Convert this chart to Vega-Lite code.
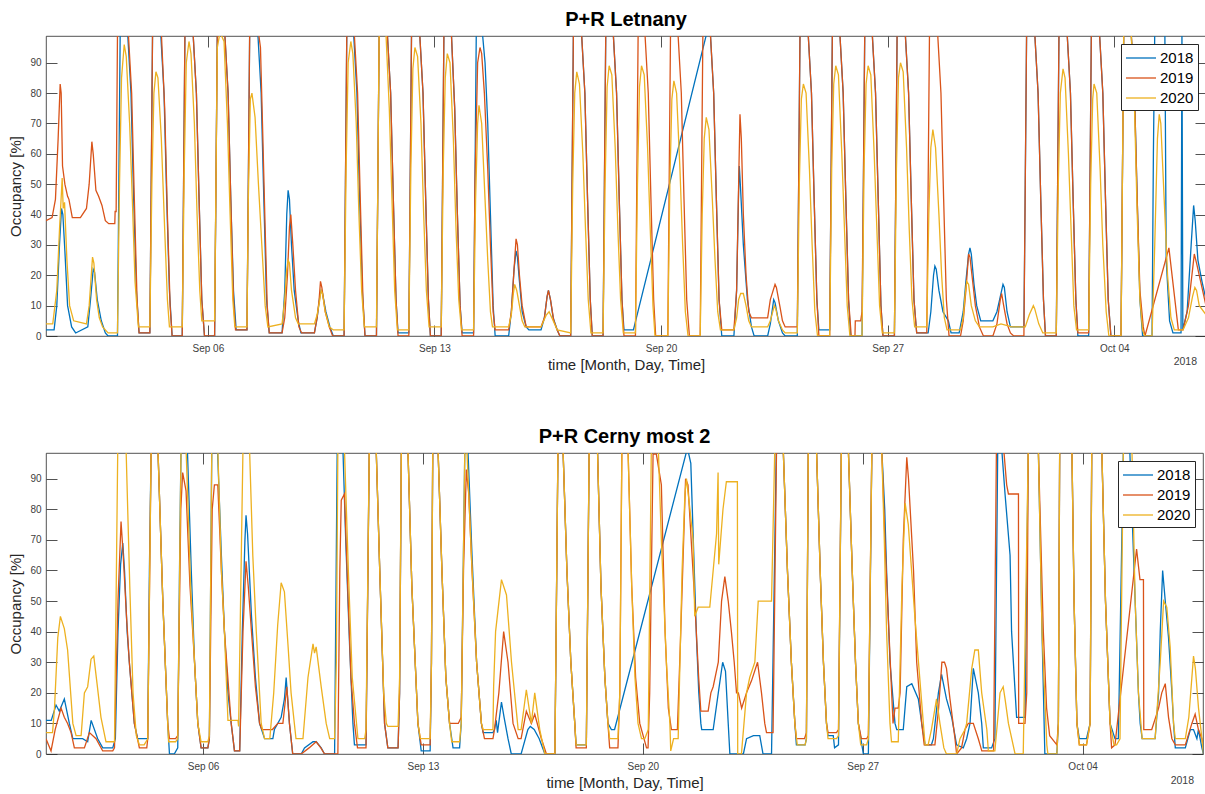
{
"$schema":"https://vega.github.io/schema/vega-lite/v6.json",
"background":"white",
"padding":{"left":8,"top":9,"right":1,"bottom":4},
"spacing":53,
"config":{
"font":"Liberation Sans",
"view":{"stroke":"#262626","strokeWidth":0.8},
"axis":{"grid":false,"domain":false,"tickColor":"#262626","tickSize":-11,"tickWidth":0.8,"labelFontSize":10,"labelColor":"#404040","labelFont":"Liberation Sans","titleFont":"Liberation Sans","titleFontSize":15,"titleFontWeight":"normal","titleColor":"#262626"},
"axisX":{"labelPadding":18,"titlePadding":4},
"axisY":{"labelPadding":16,"titlePadding":6},
"legend":{"orient":"top-right","offset":8,"fillColor":"white","strokeColor":"#262626","padding":4,"rowPadding":2,"labelFontSize":15,"labelColor":"#000","labelFont":"Liberation Sans","labelOffset":15,"symbolType":"M-1,0H2.333","symbolSize":324,"symbolStrokeWidth":1.8},
"title":{"font":"Liberation Sans","fontSize":20,"fontWeight":"bold","color":"#000","anchor":"middle","baseline":"alphabetic","offset":6},
"line":{"strokeWidth":1.3,"clip":true}
},
"resolve":{"scale":{"color":"independent"},"legend":{"color":"independent"}},
"datasets":{
"L18":[{"t":"2018-09-01T00:00","v":2},{"t":"2018-09-01T06:00","v":2},{"t":"2018-09-01T08:00","v":10},{"t":"2018-09-01T10:00","v":30},{"t":"2018-09-01T11:30","v":42},{"t":"2018-09-01T12:30","v":40},{"t":"2018-09-01T14:00","v":28},{"t":"2018-09-01T16:00","v":10},{"t":"2018-09-01T19:00","v":3},{"t":"2018-09-01T22:00","v":1},
{"t":"2018-09-02T07:00","v":3},{"t":"2018-09-02T09:00","v":12},{"t":"2018-09-02T11:00","v":22},{"t":"2018-09-02T12:00","v":21},{"t":"2018-09-02T14:00","v":12},{"t":"2018-09-02T17:00","v":5},{"t":"2018-09-02T20:00","v":1},{"t":"2018-09-02T22:00","v":0},
{"t":"2018-09-03T05:00","v":0},{"t":"2018-09-03T06:00","v":50},{"t":"2018-09-03T07:00","v":100},{"t":"2018-09-03T12:30","v":100},{"t":"2018-09-03T15:00","v":80},{"t":"2018-09-03T17:00","v":45},{"t":"2018-09-03T19:00","v":15},{"t":"2018-09-03T21:00","v":1},
{"t":"2018-09-04T05:00","v":1},{"t":"2018-09-04T06:00","v":50},{"t":"2018-09-04T07:00","v":100},{"t":"2018-09-04T13:00","v":100},{"t":"2018-09-04T15:30","v":80},{"t":"2018-09-04T17:30","v":45},{"t":"2018-09-04T19:30","v":15},{"t":"2018-09-04T21:30","v":0},
{"t":"2018-09-05T05:00","v":0},{"t":"2018-09-05T06:00","v":50},{"t":"2018-09-05T07:00","v":100},{"t":"2018-09-05T13:00","v":100},{"t":"2018-09-05T15:30","v":80},{"t":"2018-09-05T17:30","v":45},{"t":"2018-09-05T19:30","v":12},{"t":"2018-09-05T21:30","v":0},
{"t":"2018-09-06T05:00","v":0},{"t":"2018-09-06T06:00","v":50},{"t":"2018-09-06T07:00","v":100},{"t":"2018-09-06T12:30","v":100},{"t":"2018-09-06T15:00","v":80},{"t":"2018-09-06T17:00","v":45},{"t":"2018-09-06T19:00","v":15},{"t":"2018-09-06T21:00","v":2},
{"t":"2018-09-07T05:00","v":2},{"t":"2018-09-07T06:00","v":50},{"t":"2018-09-07T07:00","v":100},{"t":"2018-09-07T13:00","v":100},{"t":"2018-09-07T15:30","v":80},{"t":"2018-09-07T17:30","v":45},{"t":"2018-09-07T19:30","v":12},{"t":"2018-09-07T21:30","v":1},
{"t":"2018-09-08T07:00","v":1},{"t":"2018-09-08T09:00","v":15},{"t":"2018-09-08T10:30","v":40},{"t":"2018-09-08T11:30","v":48},{"t":"2018-09-08T12:30","v":45},{"t":"2018-09-08T14:00","v":30},{"t":"2018-09-08T16:00","v":15},{"t":"2018-09-08T19:00","v":5},{"t":"2018-09-08T21:00","v":1},
{"t":"2018-09-09T07:00","v":1},{"t":"2018-09-09T09:00","v":6},{"t":"2018-09-09T11:00","v":13},{"t":"2018-09-09T12:00","v":15},{"t":"2018-09-09T13:00","v":14},{"t":"2018-09-09T15:30","v":8},{"t":"2018-09-09T18:30","v":3},{"t":"2018-09-09T21:00","v":0},
{"t":"2018-09-10T05:00","v":0},{"t":"2018-09-10T06:00","v":50},{"t":"2018-09-10T07:00","v":100},{"t":"2018-09-10T12:00","v":100},{"t":"2018-09-10T14:30","v":80},{"t":"2018-09-10T16:30","v":45},{"t":"2018-09-10T18:30","v":15},{"t":"2018-09-10T20:30","v":0},
{"t":"2018-09-11T05:00","v":0},{"t":"2018-09-11T06:00","v":50},{"t":"2018-09-11T07:00","v":100},{"t":"2018-09-11T13:00","v":100},{"t":"2018-09-11T15:30","v":80},{"t":"2018-09-11T17:30","v":45},{"t":"2018-09-11T19:30","v":12},{"t":"2018-09-11T21:00","v":1},
{"t":"2018-09-12T05:00","v":1},{"t":"2018-09-12T06:00","v":50},{"t":"2018-09-12T07:00","v":100},{"t":"2018-09-12T13:00","v":100},{"t":"2018-09-12T15:30","v":80},{"t":"2018-09-12T17:30","v":45},{"t":"2018-09-12T19:30","v":12},{"t":"2018-09-12T21:00","v":0},
{"t":"2018-09-13T05:00","v":0},{"t":"2018-09-13T06:00","v":50},{"t":"2018-09-13T07:00","v":100},{"t":"2018-09-13T12:30","v":100},{"t":"2018-09-13T15:00","v":75},{"t":"2018-09-13T17:00","v":40},{"t":"2018-09-13T19:00","v":10},{"t":"2018-09-13T20:30","v":1},
{"t":"2018-09-14T05:00","v":1},{"t":"2018-09-14T06:00","v":50},{"t":"2018-09-14T07:00","v":100},{"t":"2018-09-14T11:30","v":100},{"t":"2018-09-14T13:30","v":90},{"t":"2018-09-14T15:30","v":70},{"t":"2018-09-14T17:30","v":40},{"t":"2018-09-14T19:30","v":10},{"t":"2018-09-14T21:00","v":0},
{"t":"2018-09-15T07:00","v":0},{"t":"2018-09-15T09:00","v":8},{"t":"2018-09-15T11:00","v":22},{"t":"2018-09-15T12:30","v":28},{"t":"2018-09-15T13:30","v":26},{"t":"2018-09-15T15:00","v":18},{"t":"2018-09-15T17:00","v":8},{"t":"2018-09-15T20:00","v":3},{"t":"2018-09-15T22:00","v":2},
{"t":"2018-09-16T07:00","v":2},{"t":"2018-09-16T09:30","v":6},{"t":"2018-09-16T11:30","v":13},{"t":"2018-09-16T12:30","v":15},{"t":"2018-09-16T14:00","v":12},{"t":"2018-09-16T16:00","v":6},{"t":"2018-09-16T19:00","v":2},{"t":"2018-09-16T21:00","v":0},
{"t":"2018-09-17T05:00","v":0},{"t":"2018-09-17T06:00","v":50},{"t":"2018-09-17T07:00","v":100},{"t":"2018-09-17T13:00","v":100},{"t":"2018-09-17T15:30","v":80},{"t":"2018-09-17T17:30","v":45},{"t":"2018-09-17T19:30","v":12},{"t":"2018-09-17T21:00","v":0},
{"t":"2018-09-18T05:00","v":0},{"t":"2018-09-18T06:00","v":50},{"t":"2018-09-18T07:00","v":100},{"t":"2018-09-18T12:30","v":100},{"t":"2018-09-18T15:00","v":80},{"t":"2018-09-18T17:00","v":45},{"t":"2018-09-18T19:00","v":12},{"t":"2018-09-18T20:30","v":2},
{"t":"2018-09-19T03:30","v":2},
{"t":"2018-09-21T10:00","v":100},{"t":"2018-09-21T12:30","v":100},{"t":"2018-09-21T15:00","v":80},{"t":"2018-09-21T17:00","v":45},{"t":"2018-09-21T19:00","v":12},{"t":"2018-09-21T21:00","v":0},
{"t":"2018-09-22T06:00","v":0},{"t":"2018-09-22T08:00","v":15},{"t":"2018-09-22T09:30","v":48},{"t":"2018-09-22T10:00","v":56},{"t":"2018-09-22T11:00","v":48},{"t":"2018-09-22T13:00","v":30},{"t":"2018-09-22T16:00","v":12},{"t":"2018-09-22T19:00","v":3},{"t":"2018-09-22T21:00","v":0},
{"t":"2018-09-23T07:00","v":0},{"t":"2018-09-23T09:00","v":4},{"t":"2018-09-23T11:30","v":12},{"t":"2018-09-23T12:30","v":11},{"t":"2018-09-23T15:00","v":5},{"t":"2018-09-23T18:00","v":1},{"t":"2018-09-23T20:00","v":0},
{"t":"2018-09-24T05:00","v":0},{"t":"2018-09-24T06:00","v":50},{"t":"2018-09-24T07:00","v":100},{"t":"2018-09-24T13:00","v":100},{"t":"2018-09-24T15:30","v":80},{"t":"2018-09-24T17:30","v":45},{"t":"2018-09-24T19:30","v":12},{"t":"2018-09-24T21:00","v":2},
{"t":"2018-09-25T05:00","v":2},{"t":"2018-09-25T06:00","v":50},{"t":"2018-09-25T07:00","v":100},{"t":"2018-09-25T12:30","v":100},{"t":"2018-09-25T15:00","v":80},{"t":"2018-09-25T17:00","v":45},{"t":"2018-09-25T19:00","v":12},{"t":"2018-09-25T20:30","v":0},
{"t":"2018-09-26T05:00","v":0},{"t":"2018-09-26T06:00","v":50},{"t":"2018-09-26T07:00","v":100},{"t":"2018-09-26T12:30","v":100},{"t":"2018-09-26T15:00","v":80},{"t":"2018-09-26T17:00","v":45},{"t":"2018-09-26T19:00","v":10},{"t":"2018-09-26T20:30","v":0},
{"t":"2018-09-27T05:00","v":0},{"t":"2018-09-27T06:00","v":50},{"t":"2018-09-27T07:00","v":100},{"t":"2018-09-27T13:00","v":100},{"t":"2018-09-27T15:30","v":80},{"t":"2018-09-27T17:30","v":45},{"t":"2018-09-27T19:30","v":12},{"t":"2018-09-27T21:30","v":1},
{"t":"2018-09-28T06:00","v":1},{"t":"2018-09-28T08:00","v":8},{"t":"2018-09-28T10:00","v":20},{"t":"2018-09-28T11:00","v":23},{"t":"2018-09-28T12:00","v":22},{"t":"2018-09-28T14:00","v":15},{"t":"2018-09-28T17:00","v":8},{"t":"2018-09-28T21:00","v":5},{"t":"2018-09-28T23:00","v":1},
{"t":"2018-09-29T05:00","v":1},{"t":"2018-09-29T08:00","v":8},{"t":"2018-09-29T10:00","v":18},{"t":"2018-09-29T12:00","v":27},{"t":"2018-09-29T13:00","v":29},{"t":"2018-09-29T14:00","v":27},{"t":"2018-09-29T16:00","v":17},{"t":"2018-09-29T18:00","v":10},{"t":"2018-09-29T21:00","v":5},
{"t":"2018-09-30T06:00","v":5},{"t":"2018-09-30T09:00","v":8},{"t":"2018-09-30T11:00","v":12},{"t":"2018-09-30T13:30","v":17},{"t":"2018-09-30T14:30","v":16},{"t":"2018-09-30T16:30","v":8},{"t":"2018-09-30T19:00","v":3},
{"t":"2018-10-01T05:00","v":3},{"t":"2018-10-01T06:00","v":50},{"t":"2018-10-01T07:00","v":100},{"t":"2018-10-01T13:00","v":100},{"t":"2018-10-01T15:30","v":80},{"t":"2018-10-01T17:30","v":45},{"t":"2018-10-01T19:30","v":12},{"t":"2018-10-01T21:00","v":0},
{"t":"2018-10-02T05:00","v":0},{"t":"2018-10-02T06:00","v":50},{"t":"2018-10-02T07:00","v":100},{"t":"2018-10-02T13:00","v":100},{"t":"2018-10-02T15:30","v":80},{"t":"2018-10-02T17:30","v":45},{"t":"2018-10-02T19:30","v":12},{"t":"2018-10-02T21:00","v":0},
{"t":"2018-10-03T05:00","v":0},{"t":"2018-10-03T06:00","v":50},{"t":"2018-10-03T07:00","v":100},{"t":"2018-10-03T13:00","v":100},{"t":"2018-10-03T15:30","v":80},{"t":"2018-10-03T17:30","v":45},{"t":"2018-10-03T19:30","v":12},{"t":"2018-10-03T21:30","v":0},
{"t":"2018-10-04T05:00","v":0},{"t":"2018-10-04T06:00","v":50},{"t":"2018-10-04T07:00","v":100},{"t":"2018-10-04T12:30","v":100},{"t":"2018-10-04T15:00","v":80},{"t":"2018-10-04T17:00","v":45},{"t":"2018-10-04T19:00","v":12},{"t":"2018-10-04T21:00","v":0},
{"t":"2018-10-05T04:00","v":0},{"t":"2018-10-05T05:00","v":60},{"t":"2018-10-05T06:00","v":100},{"t":"2018-10-05T13:30","v":100},{"t":"2018-10-05T14:30","v":25},{"t":"2018-10-05T17:00","v":5},{"t":"2018-10-05T19:30","v":1},
{"t":"2018-10-06T01:30","v":1},{"t":"2018-10-06T02:10","v":100},{"t":"2018-10-06T02:50","v":2},{"t":"2018-10-06T06:00","v":8},{"t":"2018-10-06T09:00","v":30},{"t":"2018-10-06T10:50","v":43},{"t":"2018-10-06T12:00","v":38},{"t":"2018-10-06T14:00","v":25},{"t":"2018-10-06T17:00","v":18},{"t":"2018-10-06T20:00","v":12}],
"L19":[{"t":"2018-09-01T00:00","v":38},{"t":"2018-09-01T04:30","v":39},{"t":"2018-09-01T07:00","v":45},{"t":"2018-09-01T09:00","v":65},{"t":"2018-09-01T10:30","v":83},{"t":"2018-09-01T11:15","v":80},{"t":"2018-09-01T12:15","v":56},{"t":"2018-09-01T14:00","v":50},{"t":"2018-09-01T16:00","v":46},{"t":"2018-09-01T17:00","v":45},{"t":"2018-09-01T19:30","v":39},
{"t":"2018-09-02T01:30","v":39},{"t":"2018-09-02T06:00","v":42},{"t":"2018-09-02T08:00","v":50},{"t":"2018-09-02T10:00","v":64},{"t":"2018-09-02T11:00","v":60},{"t":"2018-09-02T13:00","v":48},{"t":"2018-09-02T15:00","v":46},{"t":"2018-09-02T17:30","v":43},{"t":"2018-09-02T20:00","v":38},{"t":"2018-09-02T22:30","v":37},
{"t":"2018-09-03T03:00","v":37},{"t":"2018-09-03T03:15","v":41},{"t":"2018-09-03T04:00","v":41},{"t":"2018-09-03T05:00","v":100},{"t":"2018-09-03T13:00","v":100},{"t":"2018-09-03T15:30","v":80},{"t":"2018-09-03T17:30","v":45},{"t":"2018-09-03T19:30","v":12},{"t":"2018-09-03T21:00","v":1},
{"t":"2018-09-04T05:00","v":1},{"t":"2018-09-04T06:00","v":50},{"t":"2018-09-04T07:00","v":100},{"t":"2018-09-04T13:30","v":100},{"t":"2018-09-04T16:00","v":75},{"t":"2018-09-04T18:00","v":40},{"t":"2018-09-04T20:00","v":10},{"t":"2018-09-04T21:30","v":0},
{"t":"2018-09-05T05:00","v":0},{"t":"2018-09-05T06:00","v":50},{"t":"2018-09-05T07:00","v":100},{"t":"2018-09-05T13:00","v":100},{"t":"2018-09-05T15:30","v":80},{"t":"2018-09-05T17:30","v":45},{"t":"2018-09-05T19:30","v":12},{"t":"2018-09-05T21:30","v":0},
{"t":"2018-09-06T05:00","v":0},{"t":"2018-09-06T06:00","v":50},{"t":"2018-09-06T07:00","v":100},{"t":"2018-09-06T12:30","v":100},{"t":"2018-09-06T15:00","v":80},{"t":"2018-09-06T17:00","v":45},{"t":"2018-09-06T19:00","v":12},{"t":"2018-09-06T20:30","v":2},
{"t":"2018-09-07T05:00","v":2},{"t":"2018-09-07T06:00","v":50},{"t":"2018-09-07T07:00","v":100},{"t":"2018-09-07T13:30","v":100},{"t":"2018-09-07T15:00","v":95},{"t":"2018-09-07T16:30","v":70},{"t":"2018-09-07T18:30","v":35},{"t":"2018-09-07T20:00","v":10},{"t":"2018-09-07T21:30","v":1},
{"t":"2018-09-08T07:00","v":1},{"t":"2018-09-08T09:00","v":6},{"t":"2018-09-08T11:00","v":20},{"t":"2018-09-08T12:30","v":36},{"t":"2018-09-08T13:30","v":40},{"t":"2018-09-08T15:00","v":30},{"t":"2018-09-08T17:00","v":15},{"t":"2018-09-08T19:30","v":3},{"t":"2018-09-08T21:30","v":1},
{"t":"2018-09-09T07:00","v":1},{"t":"2018-09-09T09:00","v":6},{"t":"2018-09-09T10:30","v":12},{"t":"2018-09-09T11:30","v":18},{"t":"2018-09-09T12:30","v":16},{"t":"2018-09-09T15:00","v":8},{"t":"2018-09-09T18:00","v":3},{"t":"2018-09-09T20:30","v":0},
{"t":"2018-09-10T05:00","v":0},{"t":"2018-09-10T06:00","v":50},{"t":"2018-09-10T07:00","v":100},{"t":"2018-09-10T12:30","v":100},{"t":"2018-09-10T15:00","v":80},{"t":"2018-09-10T17:00","v":45},{"t":"2018-09-10T19:00","v":12},{"t":"2018-09-10T20:30","v":0},
{"t":"2018-09-11T05:00","v":0},{"t":"2018-09-11T06:00","v":50},{"t":"2018-09-11T07:00","v":100},{"t":"2018-09-11T13:00","v":100},{"t":"2018-09-11T15:30","v":80},{"t":"2018-09-11T17:30","v":45},{"t":"2018-09-11T19:30","v":12},{"t":"2018-09-11T21:00","v":0},
{"t":"2018-09-12T05:00","v":0},{"t":"2018-09-12T06:00","v":50},{"t":"2018-09-12T07:00","v":100},{"t":"2018-09-12T13:00","v":100},{"t":"2018-09-12T15:30","v":80},{"t":"2018-09-12T17:30","v":45},{"t":"2018-09-12T19:30","v":12},{"t":"2018-09-12T21:00","v":0},
{"t":"2018-09-13T05:00","v":0},{"t":"2018-09-13T06:00","v":50},{"t":"2018-09-13T07:00","v":100},{"t":"2018-09-13T12:30","v":100},{"t":"2018-09-13T15:00","v":75},{"t":"2018-09-13T17:00","v":40},{"t":"2018-09-13T19:00","v":10},{"t":"2018-09-13T20:30","v":0},
{"t":"2018-09-14T05:00","v":0},{"t":"2018-09-14T06:00","v":50},{"t":"2018-09-14T08:00","v":90},{"t":"2018-09-14T09:45","v":95},{"t":"2018-09-14T11:00","v":93},{"t":"2018-09-14T13:00","v":80},{"t":"2018-09-14T15:30","v":55},{"t":"2018-09-14T17:30","v":30},{"t":"2018-09-14T19:30","v":8},{"t":"2018-09-14T21:00","v":2},
{"t":"2018-09-15T07:00","v":2},{"t":"2018-09-15T09:00","v":8},{"t":"2018-09-15T11:00","v":22},{"t":"2018-09-15T12:30","v":32},{"t":"2018-09-15T13:30","v":30},{"t":"2018-09-15T15:00","v":20},{"t":"2018-09-15T17:00","v":10},{"t":"2018-09-15T20:00","v":3},
{"t":"2018-09-16T07:00","v":3},{"t":"2018-09-16T09:30","v":6},{"t":"2018-09-16T11:30","v":13},{"t":"2018-09-16T12:30","v":15},{"t":"2018-09-16T14:00","v":12},{"t":"2018-09-16T16:30","v":5},{"t":"2018-09-16T19:00","v":2},{"t":"2018-09-16T21:00","v":0},
{"t":"2018-09-17T05:00","v":0},{"t":"2018-09-17T06:00","v":50},{"t":"2018-09-17T07:00","v":100},{"t":"2018-09-17T13:00","v":100},{"t":"2018-09-17T15:30","v":80},{"t":"2018-09-17T17:30","v":45},{"t":"2018-09-17T19:30","v":12},{"t":"2018-09-17T21:00","v":0},
{"t":"2018-09-18T05:00","v":0},{"t":"2018-09-18T06:00","v":50},{"t":"2018-09-18T07:00","v":100},{"t":"2018-09-18T12:30","v":100},{"t":"2018-09-18T15:00","v":80},{"t":"2018-09-18T17:00","v":45},{"t":"2018-09-18T19:00","v":12},{"t":"2018-09-18T20:30","v":0},
{"t":"2018-09-19T05:00","v":0},{"t":"2018-09-19T06:00","v":50},{"t":"2018-09-19T07:00","v":100},{"t":"2018-09-19T12:00","v":100},{"t":"2018-09-19T14:30","v":80},{"t":"2018-09-19T16:30","v":45},{"t":"2018-09-19T18:30","v":12},{"t":"2018-09-19T20:00","v":0},
{"t":"2018-09-20T05:00","v":0},{"t":"2018-09-20T06:00","v":50},{"t":"2018-09-20T07:00","v":100},{"t":"2018-09-20T12:30","v":100},{"t":"2018-09-20T15:00","v":80},{"t":"2018-09-20T17:00","v":45},{"t":"2018-09-20T19:00","v":12},{"t":"2018-09-20T21:00","v":0},
{"t":"2018-09-21T05:00","v":0},{"t":"2018-09-21T06:00","v":50},{"t":"2018-09-21T07:00","v":100},{"t":"2018-09-21T12:30","v":100},{"t":"2018-09-21T15:00","v":80},{"t":"2018-09-21T17:00","v":45},{"t":"2018-09-21T19:00","v":12},{"t":"2018-09-21T21:00","v":2},
{"t":"2018-09-22T06:00","v":2},{"t":"2018-09-22T08:00","v":15},{"t":"2018-09-22T09:30","v":50},{"t":"2018-09-22T10:30","v":73},{"t":"2018-09-22T11:30","v":65},{"t":"2018-09-22T13:00","v":40},{"t":"2018-09-22T15:00","v":20},{"t":"2018-09-22T17:00","v":8},{"t":"2018-09-22T19:00","v":6},
{"t":"2018-09-23T07:00","v":6},{"t":"2018-09-23T09:00","v":12},{"t":"2018-09-23T12:30","v":17},{"t":"2018-09-23T13:30","v":16},{"t":"2018-09-23T16:00","v":10},{"t":"2018-09-23T18:00","v":5},{"t":"2018-09-23T20:00","v":3},
{"t":"2018-09-24T05:00","v":3},{"t":"2018-09-24T06:00","v":50},{"t":"2018-09-24T07:00","v":100},{"t":"2018-09-24T13:00","v":100},{"t":"2018-09-24T15:30","v":80},{"t":"2018-09-24T17:30","v":45},{"t":"2018-09-24T19:30","v":12},{"t":"2018-09-24T21:00","v":0},
{"t":"2018-09-25T05:00","v":0},{"t":"2018-09-25T06:00","v":50},{"t":"2018-09-25T07:00","v":100},{"t":"2018-09-25T12:30","v":100},{"t":"2018-09-25T15:00","v":80},{"t":"2018-09-25T17:00","v":45},{"t":"2018-09-25T19:00","v":12},{"t":"2018-09-25T21:00","v":0},{"t":"2018-09-25T23:45","v":0},
{"t":"2018-09-26T00:00","v":5},{"t":"2018-09-26T04:00","v":5},{"t":"2018-09-26T05:00","v":8},{"t":"2018-09-26T06:00","v":50},{"t":"2018-09-26T07:00","v":100},{"t":"2018-09-26T12:30","v":100},{"t":"2018-09-26T15:00","v":80},{"t":"2018-09-26T17:00","v":45},{"t":"2018-09-26T19:00","v":10},{"t":"2018-09-26T20:30","v":0},
{"t":"2018-09-27T05:00","v":0},{"t":"2018-09-27T06:00","v":50},{"t":"2018-09-27T07:00","v":100},{"t":"2018-09-27T13:00","v":100},{"t":"2018-09-27T15:30","v":80},{"t":"2018-09-27T17:30","v":45},{"t":"2018-09-27T19:30","v":12},{"t":"2018-09-27T21:30","v":1},
{"t":"2018-09-28T05:00","v":1},{"t":"2018-09-28T06:00","v":50},{"t":"2018-09-28T07:00","v":100},{"t":"2018-09-28T13:00","v":100},{"t":"2018-09-28T15:30","v":80},{"t":"2018-09-28T17:30","v":45},{"t":"2018-09-28T19:30","v":12},{"t":"2018-09-28T21:30","v":0},
{"t":"2018-09-29T06:00","v":0},{"t":"2018-09-29T08:00","v":5},{"t":"2018-09-29T10:00","v":15},{"t":"2018-09-29T12:00","v":27},{"t":"2018-09-29T13:00","v":26},{"t":"2018-09-29T14:30","v":20},{"t":"2018-09-29T17:00","v":10},{"t":"2018-09-29T20:00","v":3},{"t":"2018-09-29T23:00","v":0},
{"t":"2018-09-30T06:00","v":0},{"t":"2018-09-30T09:00","v":4},{"t":"2018-09-30T11:30","v":12},{"t":"2018-09-30T12:30","v":14},{"t":"2018-09-30T14:00","v":10},{"t":"2018-09-30T16:30","v":4},{"t":"2018-09-30T19:00","v":1},{"t":"2018-09-30T21:30","v":0},
{"t":"2018-10-01T05:00","v":0},{"t":"2018-10-01T06:00","v":50},{"t":"2018-10-01T07:00","v":100},{"t":"2018-10-01T13:00","v":100},{"t":"2018-10-01T15:30","v":80},{"t":"2018-10-01T17:30","v":45},{"t":"2018-10-01T19:30","v":12},{"t":"2018-10-01T21:00","v":0},
{"t":"2018-10-02T05:00","v":0},{"t":"2018-10-02T06:00","v":50},{"t":"2018-10-02T07:00","v":100},{"t":"2018-10-02T13:00","v":100},{"t":"2018-10-02T15:30","v":80},{"t":"2018-10-02T17:30","v":45},{"t":"2018-10-02T19:30","v":12},{"t":"2018-10-02T21:00","v":1},
{"t":"2018-10-03T05:00","v":1},{"t":"2018-10-03T06:00","v":50},{"t":"2018-10-03T07:00","v":100},{"t":"2018-10-03T13:00","v":100},{"t":"2018-10-03T15:30","v":80},{"t":"2018-10-03T17:30","v":45},{"t":"2018-10-03T19:30","v":12},{"t":"2018-10-03T21:30","v":0},
{"t":"2018-10-04T05:00","v":0},{"t":"2018-10-04T06:00","v":50},{"t":"2018-10-04T07:00","v":100},{"t":"2018-10-04T12:30","v":100},{"t":"2018-10-04T15:00","v":80},{"t":"2018-10-04T17:00","v":45},{"t":"2018-10-04T19:00","v":15},{"t":"2018-10-04T21:30","v":3},{"t":"2018-10-04T22:45","v":0},
{"t":"2018-10-05T16:30","v":29},{"t":"2018-10-05T23:30","v":2},
{"t":"2018-10-06T03:00","v":2},{"t":"2018-10-06T07:00","v":10},{"t":"2018-10-06T11:20","v":27},{"t":"2018-10-06T13:00","v":24},{"t":"2018-10-06T16:00","v":18},{"t":"2018-10-06T20:00","v":10}],
"L20":[{"t":"2018-09-01T00:00","v":4},{"t":"2018-09-01T05:00","v":4},{"t":"2018-09-01T08:00","v":15},{"t":"2018-09-01T10:00","v":35},{"t":"2018-09-01T12:00","v":52},{"t":"2018-09-01T12:45","v":42},{"t":"2018-09-01T13:45","v":44},{"t":"2018-09-01T15:30","v":25},{"t":"2018-09-01T17:30","v":10},{"t":"2018-09-01T20:30","v":5},
{"t":"2018-09-02T06:00","v":4},{"t":"2018-09-02T08:00","v":10},{"t":"2018-09-02T10:30","v":26},{"t":"2018-09-02T11:30","v":24},{"t":"2018-09-02T13:30","v":12},{"t":"2018-09-02T15:30","v":6},{"t":"2018-09-02T18:00","v":3},{"t":"2018-09-02T22:00","v":1},
{"t":"2018-09-03T05:00","v":1},{"t":"2018-09-03T06:30","v":50},{"t":"2018-09-03T08:00","v":85},{"t":"2018-09-03T10:00","v":96},{"t":"2018-09-03T11:30","v":92},{"t":"2018-09-03T14:00","v":70},{"t":"2018-09-03T16:00","v":45},{"t":"2018-09-03T18:00","v":18},{"t":"2018-09-03T20:30","v":3},
{"t":"2018-09-04T05:00","v":3},{"t":"2018-09-04T06:30","v":50},{"t":"2018-09-04T08:00","v":80},{"t":"2018-09-04T09:30","v":87},{"t":"2018-09-04T11:00","v":85},{"t":"2018-09-04T13:30","v":65},{"t":"2018-09-04T16:00","v":35},{"t":"2018-09-04T18:00","v":12},{"t":"2018-09-04T19:30","v":3},
{"t":"2018-09-05T05:00","v":3},{"t":"2018-09-05T06:30","v":55},{"t":"2018-09-05T08:00","v":90},{"t":"2018-09-05T10:00","v":97},{"t":"2018-09-05T11:30","v":93},{"t":"2018-09-05T14:00","v":70},{"t":"2018-09-05T16:00","v":40},{"t":"2018-09-05T18:00","v":15},{"t":"2018-09-05T19:30","v":5},
{"t":"2018-09-06T05:00","v":5},{"t":"2018-09-06T06:00","v":50},{"t":"2018-09-06T07:00","v":95},{"t":"2018-09-06T09:00","v":100},{"t":"2018-09-06T12:00","v":97},{"t":"2018-09-06T14:30","v":70},{"t":"2018-09-06T16:30","v":40},{"t":"2018-09-06T18:30","v":12},{"t":"2018-09-06T20:00","v":3},
{"t":"2018-09-07T05:00","v":3},{"t":"2018-09-07T06:00","v":45},{"t":"2018-09-07T07:30","v":78},{"t":"2018-09-07T08:40","v":80},{"t":"2018-09-07T11:00","v":72},{"t":"2018-09-07T13:30","v":50},{"t":"2018-09-07T16:00","v":30},{"t":"2018-09-07T18:30","v":10},{"t":"2018-09-07T20:30","v":3},
{"t":"2018-09-08T07:00","v":4},{"t":"2018-09-08T09:00","v":12},{"t":"2018-09-08T10:30","v":22},{"t":"2018-09-08T11:30","v":25},{"t":"2018-09-08T12:30","v":24},{"t":"2018-09-08T14:00","v":15},{"t":"2018-09-08T17:00","v":6},{"t":"2018-09-08T19:00","v":4},
{"t":"2018-09-09T07:00","v":4},{"t":"2018-09-09T09:00","v":7},{"t":"2018-09-09T11:00","v":12},{"t":"2018-09-09T12:00","v":15},{"t":"2018-09-09T13:00","v":14},{"t":"2018-09-09T15:00","v":8},{"t":"2018-09-09T18:00","v":3},{"t":"2018-09-09T21:00","v":2},
{"t":"2018-09-10T05:00","v":2},{"t":"2018-09-10T06:30","v":55},{"t":"2018-09-10T08:00","v":90},{"t":"2018-09-10T10:00","v":97},{"t":"2018-09-10T11:30","v":93},{"t":"2018-09-10T14:00","v":70},{"t":"2018-09-10T16:00","v":40},{"t":"2018-09-10T18:00","v":15},{"t":"2018-09-10T20:00","v":3},
{"t":"2018-09-11T05:00","v":3},{"t":"2018-09-11T06:00","v":50},{"t":"2018-09-11T07:00","v":100},{"t":"2018-09-11T12:00","v":100},{"t":"2018-09-11T14:30","v":75},{"t":"2018-09-11T16:30","v":45},{"t":"2018-09-11T18:30","v":15},{"t":"2018-09-11T20:30","v":2},
{"t":"2018-09-12T05:00","v":2},{"t":"2018-09-12T06:30","v":55},{"t":"2018-09-12T08:00","v":88},{"t":"2018-09-12T09:30","v":95},{"t":"2018-09-12T11:30","v":92},{"t":"2018-09-12T14:00","v":70},{"t":"2018-09-12T16:00","v":40},{"t":"2018-09-12T18:00","v":15},{"t":"2018-09-12T20:00","v":3},
{"t":"2018-09-13T05:00","v":3},{"t":"2018-09-13T06:30","v":55},{"t":"2018-09-13T08:00","v":85},{"t":"2018-09-13T09:30","v":93},{"t":"2018-09-13T11:30","v":90},{"t":"2018-09-13T14:00","v":65},{"t":"2018-09-13T16:00","v":35},{"t":"2018-09-13T18:00","v":12},{"t":"2018-09-13T20:00","v":2},
{"t":"2018-09-14T05:00","v":2},{"t":"2018-09-14T06:30","v":45},{"t":"2018-09-14T08:00","v":70},{"t":"2018-09-14T09:00","v":76},{"t":"2018-09-14T11:00","v":70},{"t":"2018-09-14T13:30","v":45},{"t":"2018-09-14T15:30","v":25},{"t":"2018-09-14T17:30","v":8},{"t":"2018-09-14T19:00","v":3},
{"t":"2018-09-15T07:00","v":3},{"t":"2018-09-15T09:00","v":7},{"t":"2018-09-15T10:30","v":14},{"t":"2018-09-15T11:30","v":17},{"t":"2018-09-15T13:00","v":15},{"t":"2018-09-15T15:00","v":10},{"t":"2018-09-15T17:00","v":5},{"t":"2018-09-15T19:00","v":3},
{"t":"2018-09-16T07:00","v":3},{"t":"2018-09-16T09:00","v":5},{"t":"2018-09-16T11:00","v":7},{"t":"2018-09-16T13:00","v":8},{"t":"2018-09-16T15:00","v":6},{"t":"2018-09-16T17:00","v":4},{"t":"2018-09-16T19:00","v":2},
{"t":"2018-09-17T05:00","v":1},{"t":"2018-09-17T06:30","v":50},{"t":"2018-09-17T08:00","v":80},{"t":"2018-09-17T09:30","v":87},{"t":"2018-09-17T11:30","v":83},{"t":"2018-09-17T14:00","v":60},{"t":"2018-09-17T16:00","v":35},{"t":"2018-09-17T18:00","v":12},{"t":"2018-09-17T20:00","v":1},
{"t":"2018-09-18T05:00","v":1},{"t":"2018-09-18T06:30","v":50},{"t":"2018-09-18T08:00","v":82},{"t":"2018-09-18T09:30","v":89},{"t":"2018-09-18T11:30","v":86},{"t":"2018-09-18T14:00","v":62},{"t":"2018-09-18T16:00","v":35},{"t":"2018-09-18T18:00","v":12},{"t":"2018-09-18T20:00","v":1},
{"t":"2018-09-19T05:00","v":1},{"t":"2018-09-19T06:30","v":50},{"t":"2018-09-19T08:00","v":82},{"t":"2018-09-19T09:30","v":89},{"t":"2018-09-19T11:30","v":86},{"t":"2018-09-19T14:00","v":62},{"t":"2018-09-19T16:00","v":35},{"t":"2018-09-19T18:00","v":10},{"t":"2018-09-19T19:30","v":0},
{"t":"2018-09-20T05:00","v":0},{"t":"2018-09-20T06:30","v":50},{"t":"2018-09-20T08:00","v":78},{"t":"2018-09-20T09:30","v":84},{"t":"2018-09-20T11:30","v":80},{"t":"2018-09-20T14:00","v":55},{"t":"2018-09-20T16:00","v":30},{"t":"2018-09-20T18:00","v":8},{"t":"2018-09-20T20:00","v":0},
{"t":"2018-09-21T05:00","v":0},{"t":"2018-09-21T06:30","v":40},{"t":"2018-09-21T08:00","v":65},{"t":"2018-09-21T09:30","v":72},{"t":"2018-09-21T11:30","v":68},{"t":"2018-09-21T14:00","v":45},{"t":"2018-09-21T16:00","v":25},{"t":"2018-09-21T18:00","v":8},{"t":"2018-09-21T20:00","v":2},
{"t":"2018-09-22T06:00","v":2},{"t":"2018-09-22T08:00","v":6},{"t":"2018-09-22T09:30","v":12},{"t":"2018-09-22T11:00","v":14},{"t":"2018-09-22T13:00","v":14},{"t":"2018-09-22T15:00","v":10},{"t":"2018-09-22T17:00","v":5},{"t":"2018-09-22T19:00","v":3},
{"t":"2018-09-23T07:00","v":3},{"t":"2018-09-23T09:00","v":5},{"t":"2018-09-23T12:00","v":10},{"t":"2018-09-23T13:00","v":9},{"t":"2018-09-23T15:00","v":5},{"t":"2018-09-23T18:00","v":2},{"t":"2018-09-23T20:00","v":1},
{"t":"2018-09-24T05:00","v":1},{"t":"2018-09-24T06:30","v":50},{"t":"2018-09-24T08:00","v":78},{"t":"2018-09-24T09:30","v":83},{"t":"2018-09-24T11:30","v":80},{"t":"2018-09-24T14:00","v":55},{"t":"2018-09-24T16:00","v":30},{"t":"2018-09-24T18:00","v":8},{"t":"2018-09-24T20:00","v":0},
{"t":"2018-09-25T05:00","v":0},{"t":"2018-09-25T06:30","v":55},{"t":"2018-09-25T08:00","v":83},{"t":"2018-09-25T09:30","v":89},{"t":"2018-09-25T11:30","v":86},{"t":"2018-09-25T14:00","v":60},{"t":"2018-09-25T16:00","v":35},{"t":"2018-09-25T18:00","v":10},{"t":"2018-09-25T20:00","v":0},
{"t":"2018-09-26T05:00","v":0},{"t":"2018-09-26T06:30","v":55},{"t":"2018-09-26T08:00","v":83},{"t":"2018-09-26T09:30","v":89},{"t":"2018-09-26T11:30","v":86},{"t":"2018-09-26T14:00","v":60},{"t":"2018-09-26T16:00","v":35},{"t":"2018-09-26T18:00","v":10},{"t":"2018-09-26T20:00","v":1},
{"t":"2018-09-27T05:00","v":1},{"t":"2018-09-27T06:30","v":55},{"t":"2018-09-27T08:00","v":85},{"t":"2018-09-27T09:30","v":90},{"t":"2018-09-27T11:30","v":87},{"t":"2018-09-27T14:00","v":62},{"t":"2018-09-27T16:00","v":35},{"t":"2018-09-27T18:00","v":12},{"t":"2018-09-27T20:00","v":3},
{"t":"2018-09-28T05:00","v":3},{"t":"2018-09-28T06:30","v":40},{"t":"2018-09-28T08:00","v":62},{"t":"2018-09-28T09:30","v":68},{"t":"2018-09-28T11:30","v":62},{"t":"2018-09-28T14:00","v":40},{"t":"2018-09-28T16:00","v":20},{"t":"2018-09-28T18:00","v":6},{"t":"2018-09-28T20:00","v":2},
{"t":"2018-09-29T06:00","v":2},{"t":"2018-09-29T08:00","v":6},{"t":"2018-09-29T09:30","v":14},{"t":"2018-09-29T10:40","v":18},{"t":"2018-09-29T12:00","v":17},{"t":"2018-09-29T14:00","v":10},{"t":"2018-09-29T17:00","v":5},{"t":"2018-09-29T20:00","v":3},
{"t":"2018-09-30T06:00","v":3},{"t":"2018-09-30T12:00","v":4},{"t":"2018-09-30T20:00","v":3},
{"t":"2018-10-01T06:00","v":3},{"t":"2018-10-01T09:00","v":7},{"t":"2018-10-01T12:00","v":10},{"t":"2018-10-01T13:00","v":9},{"t":"2018-10-01T16:00","v":4},{"t":"2018-10-01T19:00","v":1},{"t":"2018-10-01T22:00","v":1},
{"t":"2018-10-02T05:00","v":1},{"t":"2018-10-02T06:30","v":50},{"t":"2018-10-02T08:00","v":80},{"t":"2018-10-02T10:00","v":88},{"t":"2018-10-02T11:30","v":85},{"t":"2018-10-02T14:00","v":60},{"t":"2018-10-02T16:00","v":35},{"t":"2018-10-02T18:00","v":10},{"t":"2018-10-02T20:00","v":2},
{"t":"2018-10-03T05:00","v":2},{"t":"2018-10-03T06:30","v":50},{"t":"2018-10-03T08:00","v":78},{"t":"2018-10-03T09:00","v":83},{"t":"2018-10-03T11:00","v":80},{"t":"2018-10-03T13:30","v":55},{"t":"2018-10-03T15:30","v":30},{"t":"2018-10-03T18:00","v":8},{"t":"2018-10-03T20:00","v":0},
{"t":"2018-10-04T05:00","v":0},{"t":"2018-10-04T06:00","v":50},{"t":"2018-10-04T07:00","v":100},{"t":"2018-10-04T12:30","v":100},{"t":"2018-10-04T15:00","v":75},{"t":"2018-10-04T17:00","v":40},{"t":"2018-10-04T19:00","v":12},{"t":"2018-10-04T21:00","v":2},{"t":"2018-10-04T22:30","v":0},
{"t":"2018-10-05T04:00","v":0},{"t":"2018-10-05T06:00","v":30},{"t":"2018-10-05T08:00","v":65},{"t":"2018-10-05T09:20","v":73},{"t":"2018-10-05T10:30","v":70},{"t":"2018-10-05T13:00","v":45},{"t":"2018-10-05T15:30","v":20},{"t":"2018-10-05T18:00","v":6},{"t":"2018-10-05T20:30","v":2},
{"t":"2018-10-06T03:00","v":2},{"t":"2018-10-06T07:00","v":6},{"t":"2018-10-06T10:00","v":13},{"t":"2018-10-06T11:45","v":16},{"t":"2018-10-06T13:00","v":15},{"t":"2018-10-06T15:00","v":10},{"t":"2018-10-06T20:00","v":7}],
"C18":[{"t":"2018-09-01T00:00","v":11},{"t":"2018-09-01T04:00","v":11},{"t":"2018-09-01T07:40","v":16},{"t":"2018-09-01T10:10","v":14},{"t":"2018-09-01T14:00","v":18},{"t":"2018-09-01T17:50","v":10},{"t":"2018-09-01T20:30","v":5},
{"t":"2018-09-02T04:00","v":5},{"t":"2018-09-02T07:50","v":4},{"t":"2018-09-02T10:30","v":11},{"t":"2018-09-02T15:30","v":5},{"t":"2018-09-02T19:20","v":2},
{"t":"2018-09-03T03:00","v":2},{"t":"2018-09-03T05:00","v":5},{"t":"2018-09-03T07:00","v":40},{"t":"2018-09-03T09:00","v":62},{"t":"2018-09-03T10:40","v":69},{"t":"2018-09-03T12:00","v":60},{"t":"2018-09-03T14:00","v":40},{"t":"2018-09-03T15:40","v":30},{"t":"2018-09-03T19:30","v":10},{"t":"2018-09-03T22:00","v":5},
{"t":"2018-09-04T03:00","v":5},{"t":"2018-09-04T05:45","v":5},{"t":"2018-09-04T07:00","v":60},{"t":"2018-09-04T08:20","v":100},{"t":"2018-09-04T13:30","v":100},{"t":"2018-09-04T17:15","v":50},{"t":"2018-09-04T21:00","v":10},{"t":"2018-09-04T22:20","v":0},
{"t":"2018-09-05T02:00","v":0},{"t":"2018-09-05T04:40","v":2},{"t":"2018-09-05T06:00","v":60},{"t":"2018-09-05T07:10","v":100},{"t":"2018-09-05T12:00","v":100},{"t":"2018-09-05T15:00","v":60},{"t":"2018-09-05T17:30","v":30},{"t":"2018-09-05T20:00","v":10},{"t":"2018-09-05T22:30","v":2},
{"t":"2018-09-06T03:40","v":2},{"t":"2018-09-06T04:50","v":5},{"t":"2018-09-06T06:40","v":100},{"t":"2018-09-06T11:00","v":100},{"t":"2018-09-06T14:00","v":65},{"t":"2018-09-06T16:20","v":40},{"t":"2018-09-06T19:00","v":20},{"t":"2018-09-06T21:30","v":10},
{"t":"2018-09-07T00:00","v":1},{"t":"2018-09-07T04:00","v":1},{"t":"2018-09-07T06:00","v":40},{"t":"2018-09-07T08:00","v":70},{"t":"2018-09-07T08:50","v":78},{"t":"2018-09-07T10:00","v":72},{"t":"2018-09-07T13:00","v":45},{"t":"2018-09-07T16:00","v":25},{"t":"2018-09-07T19:10","v":10},{"t":"2018-09-07T23:00","v":5},
{"t":"2018-09-08T05:20","v":5},{"t":"2018-09-08T06:30","v":8},{"t":"2018-09-08T11:40","v":12},{"t":"2018-09-08T14:10","v":18},{"t":"2018-09-08T15:30","v":25},{"t":"2018-09-08T18:00","v":10},{"t":"2018-09-08T20:30","v":0},
{"t":"2018-09-09T03:00","v":0},{"t":"2018-09-09T05:30","v":2},{"t":"2018-09-09T12:00","v":4},{"t":"2018-09-09T14:30","v":4},{"t":"2018-09-09T18:15","v":2},{"t":"2018-09-09T20:50","v":0},
{"t":"2018-09-10T04:30","v":0},{"t":"2018-09-10T06:30","v":100},{"t":"2018-09-10T10:50","v":100},{"t":"2018-09-10T13:00","v":70},{"t":"2018-09-10T16:00","v":35},{"t":"2018-09-10T18:30","v":10},{"t":"2018-09-10T19:40","v":3},
{"t":"2018-09-11T04:30","v":3},{"t":"2018-09-11T07:00","v":100},{"t":"2018-09-11T12:15","v":100},{"t":"2018-09-11T15:00","v":60},{"t":"2018-09-11T18:40","v":10},{"t":"2018-09-11T21:10","v":2},
{"t":"2018-09-12T05:00","v":2},{"t":"2018-09-12T06:10","v":20},{"t":"2018-09-12T07:30","v":100},{"t":"2018-09-12T12:30","v":100},{"t":"2018-09-12T15:30","v":55},{"t":"2018-09-12T20:10","v":10},{"t":"2018-09-12T22:40","v":1},
{"t":"2018-09-13T05:30","v":1},{"t":"2018-09-13T06:30","v":30},{"t":"2018-09-13T07:30","v":100},{"t":"2018-09-13T11:30","v":100},{"t":"2018-09-13T14:30","v":60},{"t":"2018-09-13T17:30","v":25},{"t":"2018-09-13T20:20","v":10},{"t":"2018-09-13T23:00","v":2},
{"t":"2018-09-14T04:00","v":2},{"t":"2018-09-14T05:15","v":10},{"t":"2018-09-14T08:00","v":100},{"t":"2018-09-14T10:20","v":100},{"t":"2018-09-14T13:30","v":65},{"t":"2018-09-14T17:00","v":30},{"t":"2018-09-14T20:40","v":10},{"t":"2018-09-14T22:00","v":7},
{"t":"2018-09-15T05:30","v":7},{"t":"2018-09-15T06:40","v":8},{"t":"2018-09-15T08:00","v":11},{"t":"2018-09-15T09:00","v":7},{"t":"2018-09-15T12:00","v":17},{"t":"2018-09-15T14:00","v":12},{"t":"2018-09-15T17:00","v":5},{"t":"2018-09-15T19:30","v":0},
{"t":"2018-09-16T03:00","v":0},{"t":"2018-09-16T08:10","v":8},{"t":"2018-09-16T10:00","v":9},{"t":"2018-09-16T13:00","v":8},{"t":"2018-09-16T16:50","v":5},{"t":"2018-09-16T21:10","v":0},
{"t":"2018-09-17T04:50","v":0},{"t":"2018-09-17T07:10","v":100},{"t":"2018-09-17T11:00","v":100},{"t":"2018-09-17T14:00","v":60},{"t":"2018-09-17T17:00","v":30},{"t":"2018-09-17T20:00","v":10},{"t":"2018-09-17T21:00","v":3},
{"t":"2018-09-18T04:50","v":3},{"t":"2018-09-18T07:00","v":100},{"t":"2018-09-18T13:20","v":100},{"t":"2018-09-18T16:00","v":55},{"t":"2018-09-18T19:00","v":25},{"t":"2018-09-18T21:20","v":10},
{"t":"2018-09-19T00:00","v":8},{"t":"2018-09-19T02:25","v":8},
{"t":"2018-09-21T10:05","v":100},{"t":"2018-09-21T12:40","v":95},{"t":"2018-09-21T17:00","v":38},{"t":"2018-09-21T18:45","v":20},{"t":"2018-09-21T20:20","v":10},{"t":"2018-09-21T21:00","v":8},
{"t":"2018-09-22T05:45","v":8},{"t":"2018-09-22T09:40","v":20},{"t":"2018-09-22T13:00","v":30},{"t":"2018-09-22T15:10","v":27},{"t":"2018-09-22T17:15","v":10},{"t":"2018-09-22T18:30","v":0},
{"t":"2018-09-23T04:50","v":0},{"t":"2018-09-23T07:15","v":5},{"t":"2018-09-23T12:30","v":6},{"t":"2018-09-23T17:20","v":6},{"t":"2018-09-23T19:50","v":0},
{"t":"2018-09-24T02:20","v":0},{"t":"2018-09-24T06:00","v":100},{"t":"2018-09-24T11:15","v":100},{"t":"2018-09-24T14:30","v":60},{"t":"2018-09-24T17:30","v":30},{"t":"2018-09-24T20:10","v":10},{"t":"2018-09-24T21:20","v":3},
{"t":"2018-09-25T04:00","v":3},{"t":"2018-09-25T05:00","v":5},{"t":"2018-09-25T06:25","v":100},{"t":"2018-09-25T12:40","v":100},{"t":"2018-09-25T15:30","v":60},{"t":"2018-09-25T18:00","v":30},{"t":"2018-09-25T20:20","v":10},{"t":"2018-09-25T21:30","v":6},
{"t":"2018-09-26T01:30","v":6},{"t":"2018-09-26T02:30","v":2},{"t":"2018-09-26T05:30","v":3},{"t":"2018-09-26T07:40","v":100},{"t":"2018-09-26T13:00","v":100},{"t":"2018-09-26T16:00","v":60},{"t":"2018-09-26T18:30","v":30},{"t":"2018-09-26T20:40","v":10},
{"t":"2018-09-27T00:30","v":0},{"t":"2018-09-27T04:20","v":0},{"t":"2018-09-27T07:00","v":100},{"t":"2018-09-27T14:30","v":100},{"t":"2018-09-27T16:50","v":80},{"t":"2018-09-27T18:15","v":60},{"t":"2018-09-27T20:50","v":30},
{"t":"2018-09-28T00:40","v":10},{"t":"2018-09-28T02:00","v":8},{"t":"2018-09-28T07:00","v":8},{"t":"2018-09-28T09:40","v":22},{"t":"2018-09-28T13:30","v":23},{"t":"2018-09-28T18:30","v":18},{"t":"2018-09-28T21:05","v":10},{"t":"2018-09-28T23:40","v":3},
{"t":"2018-09-29T04:30","v":3},{"t":"2018-09-29T06:00","v":5},{"t":"2018-09-29T09:50","v":20},{"t":"2018-09-29T12:15","v":26},{"t":"2018-09-29T16:00","v":18},{"t":"2018-09-29T20:00","v":12},{"t":"2018-09-29T23:45","v":3},
{"t":"2018-09-30T04:50","v":2},{"t":"2018-09-30T07:25","v":5},{"t":"2018-09-30T10:00","v":10},{"t":"2018-09-30T12:30","v":28},{"t":"2018-09-30T16:20","v":20},{"t":"2018-09-30T18:55","v":10},{"t":"2018-09-30T20:10","v":2},
{"t":"2018-10-01T02:30","v":2},{"t":"2018-10-01T05:00","v":5},{"t":"2018-10-01T07:10","v":100},{"t":"2018-10-01T10:10","v":100},{"t":"2018-10-01T12:45","v":85},{"t":"2018-10-01T16:35","v":65},{"t":"2018-10-01T17:45","v":40},{"t":"2018-10-01T21:35","v":12},
{"t":"2018-10-02T04:00","v":12},{"t":"2018-10-02T06:30","v":100},{"t":"2018-10-02T14:10","v":100},{"t":"2018-10-02T17:00","v":40},{"t":"2018-10-02T19:10","v":0},
{"t":"2018-10-03T04:20","v":0},{"t":"2018-10-03T05:30","v":10},{"t":"2018-10-03T06:30","v":100},{"t":"2018-10-03T15:50","v":100},{"t":"2018-10-03T17:30","v":50},{"t":"2018-10-03T19:40","v":10},{"t":"2018-10-03T21:30","v":5},
{"t":"2018-10-04T03:00","v":5},{"t":"2018-10-04T05:45","v":10},{"t":"2018-10-04T07:00","v":100},{"t":"2018-10-04T14:40","v":100},{"t":"2018-10-04T17:30","v":50},{"t":"2018-10-04T21:00","v":10},
{"t":"2018-10-05T00:45","v":5},{"t":"2018-10-05T03:20","v":5},{"t":"2018-10-05T07:10","v":100},{"t":"2018-10-05T12:00","v":100},{"t":"2018-10-05T13:40","v":80},{"t":"2018-10-05T16:10","v":50},{"t":"2018-10-05T18:40","v":20},{"t":"2018-10-05T20:00","v":10},{"t":"2018-10-05T21:30","v":5},
{"t":"2018-10-06T07:25","v":5},{"t":"2018-10-06T10:05","v":20},{"t":"2018-10-06T11:20","v":40},{"t":"2018-10-06T13:10","v":60},{"t":"2018-10-06T15:10","v":50},{"t":"2018-10-06T17:40","v":38},{"t":"2018-10-06T20:15","v":20},{"t":"2018-10-06T21:30","v":10},{"t":"2018-10-06T22:50","v":2},
{"t":"2018-10-07T06:30","v":2},{"t":"2018-10-07T10:20","v":8},{"t":"2018-10-07T12:45","v":8},{"t":"2018-10-07T15:20","v":5},{"t":"2018-10-07T16:30","v":8},{"t":"2018-10-07T19:10","v":2},{"t":"2018-10-07T20:20","v":0}],
"C19":[{"t":"2018-09-01T00:00","v":5},{"t":"2018-09-01T03:50","v":1},{"t":"2018-09-01T07:00","v":8},{"t":"2018-09-01T11:30","v":15},{"t":"2018-09-01T14:00","v":12},{"t":"2018-09-01T16:30","v":10},{"t":"2018-09-01T19:10","v":7},{"t":"2018-09-01T21:40","v":2},
{"t":"2018-09-02T05:20","v":2},{"t":"2018-09-02T09:10","v":7},{"t":"2018-09-02T14:15","v":5},{"t":"2018-09-02T19:20","v":1},
{"t":"2018-09-03T03:00","v":1},{"t":"2018-09-03T04:20","v":2},{"t":"2018-09-03T07:00","v":50},{"t":"2018-09-03T09:20","v":76},{"t":"2018-09-03T11:00","v":65},{"t":"2018-09-03T13:30","v":45},{"t":"2018-09-03T15:40","v":30},{"t":"2018-09-03T19:30","v":10},{"t":"2018-09-03T23:20","v":2},
{"t":"2018-09-04T05:00","v":2},{"t":"2018-09-04T05:45","v":5},{"t":"2018-09-04T08:20","v":100},{"t":"2018-09-04T13:30","v":100},{"t":"2018-09-04T17:15","v":50},{"t":"2018-09-04T21:00","v":10},{"t":"2018-09-04T22:20","v":5},
{"t":"2018-09-05T03:00","v":5},{"t":"2018-09-05T04:40","v":6},{"t":"2018-09-05T07:00","v":80},{"t":"2018-09-05T08:25","v":92},{"t":"2018-09-05T11:00","v":86},{"t":"2018-09-05T14:00","v":55},{"t":"2018-09-05T17:30","v":30},{"t":"2018-09-05T20:00","v":10},{"t":"2018-09-05T22:30","v":2},
{"t":"2018-09-06T03:40","v":2},{"t":"2018-09-06T04:50","v":5},{"t":"2018-09-06T07:00","v":80},{"t":"2018-09-06T08:40","v":88},{"t":"2018-09-06T11:15","v":88},{"t":"2018-09-06T14:00","v":60},{"t":"2018-09-06T16:20","v":40},{"t":"2018-09-06T21:30","v":10},
{"t":"2018-09-07T00:00","v":1},{"t":"2018-09-07T04:00","v":1},{"t":"2018-09-07T06:30","v":40},{"t":"2018-09-07T08:50","v":63},{"t":"2018-09-07T10:30","v":55},{"t":"2018-09-07T13:00","v":40},{"t":"2018-09-07T16:00","v":22},{"t":"2018-09-07T19:10","v":10},{"t":"2018-09-07T21:00","v":8},
{"t":"2018-09-08T05:00","v":8},{"t":"2018-09-08T09:10","v":10},{"t":"2018-09-08T13:00","v":10},{"t":"2018-09-08T16:00","v":22},{"t":"2018-09-08T18:00","v":10},{"t":"2018-09-08T20:30","v":0},
{"t":"2018-09-09T03:00","v":0},{"t":"2018-09-09T09:00","v":2},{"t":"2018-09-09T14:25","v":4},{"t":"2018-09-09T18:00","v":2},{"t":"2018-09-09T20:50","v":0},
{"t":"2018-09-10T07:00","v":0},{"t":"2018-09-10T08:30","v":60},{"t":"2018-09-10T09:35","v":83},{"t":"2018-09-10T12:00","v":85},{"t":"2018-09-10T14:30","v":55},{"t":"2018-09-10T17:00","v":25},{"t":"2018-09-10T19:40","v":10},{"t":"2018-09-10T22:00","v":2},
{"t":"2018-09-11T04:30","v":2},{"t":"2018-09-11T07:00","v":100},{"t":"2018-09-11T12:15","v":100},{"t":"2018-09-11T15:00","v":60},{"t":"2018-09-11T18:40","v":10},{"t":"2018-09-11T21:10","v":2},
{"t":"2018-09-12T05:00","v":2},{"t":"2018-09-12T06:10","v":20},{"t":"2018-09-12T07:30","v":100},{"t":"2018-09-12T12:30","v":100},{"t":"2018-09-12T15:30","v":55},{"t":"2018-09-12T20:10","v":10},{"t":"2018-09-12T22:40","v":3},
{"t":"2018-09-13T05:30","v":3},{"t":"2018-09-13T06:30","v":30},{"t":"2018-09-13T07:30","v":100},{"t":"2018-09-13T11:30","v":100},{"t":"2018-09-13T14:30","v":60},{"t":"2018-09-13T17:30","v":25},{"t":"2018-09-13T20:20","v":10},
{"t":"2018-09-14T03:00","v":10},{"t":"2018-09-14T05:15","v":12},{"t":"2018-09-14T07:00","v":60},{"t":"2018-09-14T09:10","v":93},{"t":"2018-09-14T11:00","v":85},{"t":"2018-09-14T13:30","v":60},{"t":"2018-09-14T17:00","v":30},{"t":"2018-09-14T20:40","v":10},{"t":"2018-09-14T23:00","v":5},
{"t":"2018-09-15T05:30","v":5},{"t":"2018-09-15T06:40","v":8},{"t":"2018-09-15T10:00","v":20},{"t":"2018-09-15T13:40","v":40},{"t":"2018-09-15T17:00","v":30},{"t":"2018-09-15T20:50","v":10},
{"t":"2018-09-16T00:45","v":5},{"t":"2018-09-16T03:00","v":5},{"t":"2018-09-16T07:00","v":14},{"t":"2018-09-16T10:50","v":10},{"t":"2018-09-16T13:25","v":13},{"t":"2018-09-16T18:30","v":5},{"t":"2018-09-16T22:20","v":0},
{"t":"2018-09-17T04:50","v":0},{"t":"2018-09-17T07:10","v":100},{"t":"2018-09-17T11:00","v":100},{"t":"2018-09-17T14:00","v":60},{"t":"2018-09-17T17:00","v":30},{"t":"2018-09-17T20:00","v":10},{"t":"2018-09-17T21:00","v":2},
{"t":"2018-09-18T04:50","v":2},{"t":"2018-09-18T07:00","v":100},{"t":"2018-09-18T13:20","v":100},{"t":"2018-09-18T16:00","v":55},{"t":"2018-09-18T19:00","v":25},{"t":"2018-09-18T21:20","v":10},{"t":"2018-09-18T22:40","v":2},
{"t":"2018-09-19T05:00","v":2},{"t":"2018-09-19T06:25","v":20},{"t":"2018-09-19T08:00","v":100},{"t":"2018-09-19T12:40","v":100},{"t":"2018-09-19T15:30","v":55},{"t":"2018-09-19T18:30","v":25},{"t":"2018-09-19T21:40","v":10},
{"t":"2018-09-20T02:50","v":2},{"t":"2018-09-20T04:00","v":2},{"t":"2018-09-20T05:15","v":20},{"t":"2018-09-20T07:50","v":98},{"t":"2018-09-20T10:20","v":98},{"t":"2018-09-20T14:10","v":88},{"t":"2018-09-20T17:00","v":40},{"t":"2018-09-20T19:30","v":15},{"t":"2018-09-20T21:50","v":8},
{"t":"2018-09-21T02:25","v":8},{"t":"2018-09-21T05:00","v":40},{"t":"2018-09-21T08:40","v":90},{"t":"2018-09-21T10:30","v":88},{"t":"2018-09-21T15:40","v":50},{"t":"2018-09-21T18:40","v":25},{"t":"2018-09-21T20:20","v":14},
{"t":"2018-09-22T01:55","v":14},{"t":"2018-09-22T04:00","v":20},{"t":"2018-09-22T05:45","v":22},{"t":"2018-09-22T09:40","v":30},{"t":"2018-09-22T12:10","v":50},{"t":"2018-09-22T14:40","v":58},{"t":"2018-09-22T17:15","v":50},{"t":"2018-09-22T19:40","v":40},{"t":"2018-09-22T21:50","v":30},{"t":"2018-09-22T23:35","v":20},
{"t":"2018-09-23T01:00","v":20},{"t":"2018-09-23T03:30","v":15},{"t":"2018-09-23T07:15","v":20},{"t":"2018-09-23T11:05","v":24},{"t":"2018-09-23T15:40","v":30},{"t":"2018-09-23T18:40","v":20},{"t":"2018-09-23T21:10","v":10},{"t":"2018-09-23T22:30","v":7},
{"t":"2018-09-24T03:30","v":7},{"t":"2018-09-24T06:10","v":100},{"t":"2018-09-24T11:15","v":100},{"t":"2018-09-24T14:30","v":60},{"t":"2018-09-24T17:30","v":30},{"t":"2018-09-24T20:10","v":10},{"t":"2018-09-24T21:20","v":5},
{"t":"2018-09-25T03:30","v":5},{"t":"2018-09-25T05:00","v":7},{"t":"2018-09-25T06:25","v":100},{"t":"2018-09-25T12:40","v":100},{"t":"2018-09-25T15:30","v":60},{"t":"2018-09-25T18:00","v":30},{"t":"2018-09-25T20:20","v":10},{"t":"2018-09-25T21:30","v":7},
{"t":"2018-09-26T04:00","v":7},{"t":"2018-09-26T05:30","v":8},{"t":"2018-09-26T07:40","v":100},{"t":"2018-09-26T13:00","v":100},{"t":"2018-09-26T16:00","v":60},{"t":"2018-09-26T18:30","v":30},{"t":"2018-09-26T20:40","v":10},{"t":"2018-09-26T23:00","v":5},
{"t":"2018-09-27T03:00","v":5},{"t":"2018-09-27T04:20","v":6},{"t":"2018-09-27T07:00","v":100},{"t":"2018-09-27T14:30","v":100},{"t":"2018-09-27T17:00","v":70},{"t":"2018-09-27T19:30","v":45},{"t":"2018-09-27T23:10","v":10},
{"t":"2018-09-28T00:40","v":15},{"t":"2018-09-28T03:10","v":15},{"t":"2018-09-28T04:35","v":20},{"t":"2018-09-28T07:00","v":70},{"t":"2018-09-28T09:40","v":97},{"t":"2018-09-28T11:00","v":90},{"t":"2018-09-28T14:50","v":60},{"t":"2018-09-28T17:15","v":30},{"t":"2018-09-28T21:05","v":10},{"t":"2018-09-28T23:00","v":3},
{"t":"2018-09-29T07:10","v":3},{"t":"2018-09-29T10:00","v":15},{"t":"2018-09-29T12:30","v":30},{"t":"2018-09-29T14:30","v":30},{"t":"2018-09-29T16:00","v":28},{"t":"2018-09-29T18:40","v":18},{"t":"2018-09-29T22:30","v":5},{"t":"2018-09-29T23:45","v":0},
{"t":"2018-09-30T03:30","v":2},{"t":"2018-09-30T06:10","v":8},{"t":"2018-09-30T08:40","v":10},{"t":"2018-09-30T12:30","v":10},{"t":"2018-09-30T16:20","v":5},{"t":"2018-09-30T19:00","v":1},
{"t":"2018-10-01T04:00","v":1},{"t":"2018-10-01T06:10","v":100},{"t":"2018-10-01T11:40","v":100},{"t":"2018-10-01T14:00","v":88},{"t":"2018-10-01T15:20","v":85},{"t":"2018-10-01T23:00","v":85},{"t":"2018-10-01T23:10","v":10},
{"t":"2018-10-02T04:00","v":10},{"t":"2018-10-02T05:20","v":20},{"t":"2018-10-02T06:30","v":100},{"t":"2018-10-02T14:10","v":100},{"t":"2018-10-02T18:00","v":40},{"t":"2018-10-02T20:30","v":15},{"t":"2018-10-02T22:50","v":6},
{"t":"2018-10-03T04:20","v":3},{"t":"2018-10-03T05:30","v":10},{"t":"2018-10-03T06:30","v":100},{"t":"2018-10-03T15:50","v":100},{"t":"2018-10-03T17:30","v":50},{"t":"2018-10-03T19:40","v":10},{"t":"2018-10-03T21:30","v":3},
{"t":"2018-10-04T03:00","v":3},{"t":"2018-10-04T05:45","v":10},{"t":"2018-10-04T07:00","v":100},{"t":"2018-10-04T14:40","v":100},{"t":"2018-10-04T17:30","v":50},{"t":"2018-10-04T21:00","v":10},{"t":"2018-10-04T22:10","v":2},
{"t":"2018-10-05T00:45","v":3},{"t":"2018-10-05T17:15","v":67},{"t":"2018-10-05T19:50","v":57},{"t":"2018-10-05T22:30","v":57},{"t":"2018-10-05T22:45","v":8},
{"t":"2018-10-06T04:50","v":8},{"t":"2018-10-06T10:05","v":15},{"t":"2018-10-06T12:30","v":20},{"t":"2018-10-06T15:10","v":23},{"t":"2018-10-06T17:40","v":12},{"t":"2018-10-06T20:15","v":5},{"t":"2018-10-06T22:50","v":3},
{"t":"2018-10-07T06:30","v":3},{"t":"2018-10-07T11:30","v":10},{"t":"2018-10-07T14:00","v":13},{"t":"2018-10-07T16:30","v":8},{"t":"2018-10-07T19:10","v":5},{"t":"2018-10-07T20:20","v":2}],
"C20":[{"t":"2018-09-01T00:00","v":7},{"t":"2018-09-01T05:00","v":7},{"t":"2018-09-01T06:30","v":15},{"t":"2018-09-01T09:00","v":38},{"t":"2018-09-01T11:00","v":45},{"t":"2018-09-01T14:00","v":41},{"t":"2018-09-01T16:30","v":34},{"t":"2018-09-01T20:30","v":10},{"t":"2018-09-01T23:00","v":6},
{"t":"2018-09-02T02:50","v":6},{"t":"2018-09-02T05:20","v":20},{"t":"2018-09-02T07:50","v":22},{"t":"2018-09-02T10:25","v":31},{"t":"2018-09-02T12:30","v":32},{"t":"2018-09-02T15:00","v":23},{"t":"2018-09-02T18:00","v":12},{"t":"2018-09-02T21:50","v":4},
{"t":"2018-09-03T04:20","v":4},{"t":"2018-09-03T06:50","v":100},{"t":"2018-09-03T13:10","v":100},{"t":"2018-09-03T16:00","v":55},{"t":"2018-09-03T18:30","v":20},{"t":"2018-09-03T21:00","v":6},{"t":"2018-09-03T23:20","v":3},
{"t":"2018-09-04T03:00","v":3},{"t":"2018-09-04T05:45","v":5},{"t":"2018-09-04T08:20","v":100},{"t":"2018-09-04T13:30","v":100},{"t":"2018-09-04T17:15","v":50},{"t":"2018-09-04T21:00","v":10},{"t":"2018-09-04T21:40","v":4},
{"t":"2018-09-05T03:00","v":4},{"t":"2018-09-05T04:40","v":5},{"t":"2018-09-05T07:10","v":100},{"t":"2018-09-05T11:00","v":100},{"t":"2018-09-05T14:30","v":55},{"t":"2018-09-05T17:30","v":30},{"t":"2018-09-05T20:00","v":10},{"t":"2018-09-05T22:30","v":4},
{"t":"2018-09-06T03:40","v":4},{"t":"2018-09-06T04:50","v":6},{"t":"2018-09-06T06:40","v":100},{"t":"2018-09-06T11:15","v":100},{"t":"2018-09-06T14:00","v":60},{"t":"2018-09-06T16:20","v":40},{"t":"2018-09-06T19:00","v":11},
{"t":"2018-09-07T02:40","v":11},{"t":"2018-09-07T03:10","v":9},{"t":"2018-09-07T06:30","v":100},{"t":"2018-09-07T11:30","v":100},{"t":"2018-09-07T14:00","v":65},{"t":"2018-09-07T16:40","v":40},{"t":"2018-09-07T20:25","v":10},{"t":"2018-09-07T23:00","v":5},
{"t":"2018-09-08T03:00","v":5},{"t":"2018-09-08T06:00","v":20},{"t":"2018-09-08T09:00","v":42},{"t":"2018-09-08T11:40","v":56},{"t":"2018-09-08T14:10","v":53},{"t":"2018-09-08T17:00","v":35},{"t":"2018-09-08T19:15","v":20},{"t":"2018-09-08T23:00","v":5},
{"t":"2018-09-09T04:20","v":5},{"t":"2018-09-09T08:10","v":25},{"t":"2018-09-09T12:00","v":36},{"t":"2018-09-09T13:10","v":33},{"t":"2018-09-09T14:25","v":35},{"t":"2018-09-09T18:15","v":22},{"t":"2018-09-09T22:05","v":10},
{"t":"2018-09-10T00:45","v":5},{"t":"2018-09-10T04:30","v":5},{"t":"2018-09-10T05:50","v":30},{"t":"2018-09-10T07:00","v":100},{"t":"2018-09-10T12:00","v":100},{"t":"2018-09-10T15:00","v":60},{"t":"2018-09-10T18:00","v":25},{"t":"2018-09-10T22:20","v":5},
{"t":"2018-09-11T03:30","v":5},{"t":"2018-09-11T04:30","v":8},{"t":"2018-09-11T07:00","v":100},{"t":"2018-09-11T12:15","v":100},{"t":"2018-09-11T15:00","v":60},{"t":"2018-09-11T18:00","v":20},{"t":"2018-09-11T20:00","v":10},{"t":"2018-09-11T21:10","v":9},
{"t":"2018-09-12T05:00","v":9},{"t":"2018-09-12T06:10","v":25},{"t":"2018-09-12T07:30","v":100},{"t":"2018-09-12T12:30","v":100},{"t":"2018-09-12T15:30","v":55},{"t":"2018-09-12T20:10","v":10},{"t":"2018-09-12T22:00","v":5},
{"t":"2018-09-13T05:30","v":5},{"t":"2018-09-13T06:30","v":30},{"t":"2018-09-13T07:30","v":100},{"t":"2018-09-13T11:30","v":100},{"t":"2018-09-13T14:30","v":60},{"t":"2018-09-13T17:30","v":25},{"t":"2018-09-13T20:20","v":10},{"t":"2018-09-13T22:00","v":4},
{"t":"2018-09-14T04:00","v":4},{"t":"2018-09-14T05:15","v":10},{"t":"2018-09-14T08:00","v":100},{"t":"2018-09-14T09:30","v":100},{"t":"2018-09-14T13:00","v":65},{"t":"2018-09-14T17:00","v":30},{"t":"2018-09-14T20:40","v":10},{"t":"2018-09-14T22:00","v":8},
{"t":"2018-09-15T05:30","v":8},{"t":"2018-09-15T06:00","v":22},{"t":"2018-09-15T07:30","v":40},{"t":"2018-09-15T12:00","v":57},{"t":"2018-09-15T15:50","v":52},{"t":"2018-09-15T19:40","v":30},
{"t":"2018-09-16T00:45","v":8},{"t":"2018-09-16T03:00","v":8},{"t":"2018-09-16T07:00","v":21},{"t":"2018-09-16T10:50","v":10},{"t":"2018-09-16T13:25","v":20},{"t":"2018-09-16T17:15","v":8},{"t":"2018-09-16T21:10","v":0},
{"t":"2018-09-17T04:50","v":0},{"t":"2018-09-17T07:10","v":100},{"t":"2018-09-17T11:00","v":100},{"t":"2018-09-17T14:00","v":60},{"t":"2018-09-17T17:00","v":30},{"t":"2018-09-17T20:00","v":10},{"t":"2018-09-17T21:00","v":3},
{"t":"2018-09-18T04:50","v":3},{"t":"2018-09-18T07:00","v":100},{"t":"2018-09-18T13:20","v":100},{"t":"2018-09-18T16:00","v":55},{"t":"2018-09-18T19:00","v":25},{"t":"2018-09-18T21:20","v":10},{"t":"2018-09-18T22:40","v":5},
{"t":"2018-09-19T05:00","v":5},{"t":"2018-09-19T06:25","v":20},{"t":"2018-09-19T08:00","v":100},{"t":"2018-09-19T12:40","v":100},{"t":"2018-09-19T15:30","v":55},{"t":"2018-09-19T18:00","v":25},{"t":"2018-09-19T20:20","v":10},{"t":"2018-09-19T23:00","v":5},
{"t":"2018-09-20T01:30","v":5},{"t":"2018-09-20T04:10","v":8},{"t":"2018-09-20T06:30","v":100},{"t":"2018-09-20T11:50","v":100},{"t":"2018-09-20T14:10","v":70},{"t":"2018-09-20T18:00","v":30},{"t":"2018-09-20T20:40","v":10},{"t":"2018-09-20T21:20","v":1},{"t":"2018-09-20T23:30","v":5},
{"t":"2018-09-21T03:00","v":5},{"t":"2018-09-21T06:00","v":60},{"t":"2018-09-21T08:10","v":85},{"t":"2018-09-21T09:20","v":90},{"t":"2018-09-21T12:00","v":80},{"t":"2018-09-21T14:25","v":70},{"t":"2018-09-21T15:40","v":45},{"t":"2018-09-21T18:15","v":48},
{"t":"2018-09-22T03:10","v":48},{"t":"2018-09-22T05:45","v":60},{"t":"2018-09-22T08:20","v":72},{"t":"2018-09-22T09:30","v":92},{"t":"2018-09-22T10:00","v":62},{"t":"2018-09-22T13:15","v":80},{"t":"2018-09-22T15:50","v":89},
{"t":"2018-09-23T00:15","v":89},{"t":"2018-09-23T00:30","v":0},{"t":"2018-09-23T03:20","v":0},{"t":"2018-09-23T07:15","v":20},{"t":"2018-09-23T09:40","v":25},{"t":"2018-09-23T13:35","v":30},{"t":"2018-09-23T16:10","v":50},
{"t":"2018-09-24T02:20","v":50},{"t":"2018-09-24T04:50","v":100},{"t":"2018-09-24T11:15","v":100},{"t":"2018-09-24T14:30","v":60},{"t":"2018-09-24T17:30","v":30},{"t":"2018-09-24T20:10","v":10},{"t":"2018-09-24T22:00","v":3},
{"t":"2018-09-25T04:00","v":3},{"t":"2018-09-25T05:00","v":5},{"t":"2018-09-25T06:25","v":100},{"t":"2018-09-25T12:40","v":100},{"t":"2018-09-25T15:30","v":60},{"t":"2018-09-25T18:00","v":30},{"t":"2018-09-25T20:20","v":10},{"t":"2018-09-25T21:30","v":5},
{"t":"2018-09-26T04:00","v":5},{"t":"2018-09-26T05:30","v":6},{"t":"2018-09-26T07:40","v":100},{"t":"2018-09-26T13:00","v":100},{"t":"2018-09-26T16:00","v":60},{"t":"2018-09-26T18:30","v":30},{"t":"2018-09-26T20:40","v":10},{"t":"2018-09-26T22:30","v":3},
{"t":"2018-09-27T03:00","v":3},{"t":"2018-09-27T04:20","v":5},{"t":"2018-09-27T07:00","v":100},{"t":"2018-09-27T14:30","v":100},{"t":"2018-09-27T16:30","v":70},{"t":"2018-09-27T18:15","v":40},{"t":"2018-09-27T20:50","v":10},{"t":"2018-09-27T22:00","v":4},
{"t":"2018-09-28T03:10","v":4},{"t":"2018-09-28T06:00","v":55},{"t":"2018-09-28T08:25","v":82},{"t":"2018-09-28T10:50","v":75},{"t":"2018-09-28T15:50","v":45},{"t":"2018-09-28T22:20","v":10},{"t":"2018-09-28T23:40","v":3},
{"t":"2018-09-29T02:00","v":3},{"t":"2018-09-29T04:30","v":8},{"t":"2018-09-29T08:25","v":18},{"t":"2018-09-29T11:00","v":10},{"t":"2018-09-29T14:00","v":2},{"t":"2018-09-29T16:00","v":0},{"t":"2018-09-29T23:45","v":0},
{"t":"2018-09-30T02:20","v":5},{"t":"2018-09-30T06:10","v":8},{"t":"2018-09-30T07:25","v":10},{"t":"2018-09-30T11:20","v":28},{"t":"2018-09-30T13:40","v":34},{"t":"2018-09-30T16:20","v":34},{"t":"2018-09-30T18:55","v":20},{"t":"2018-09-30T22:50","v":8},
{"t":"2018-10-01T00:00","v":1},{"t":"2018-10-01T05:00","v":1},{"t":"2018-10-01T08:55","v":20},{"t":"2018-10-01T11:20","v":22},{"t":"2018-10-01T12:45","v":18},{"t":"2018-10-01T15:20","v":10},{"t":"2018-10-01T20:25","v":0},
{"t":"2018-10-02T02:40","v":0},{"t":"2018-10-02T06:30","v":100},{"t":"2018-10-02T14:10","v":100},{"t":"2018-10-02T17:00","v":40},{"t":"2018-10-02T20:40","v":3},{"t":"2018-10-02T21:30","v":0},
{"t":"2018-10-03T04:20","v":0},{"t":"2018-10-03T05:30","v":10},{"t":"2018-10-03T06:30","v":100},{"t":"2018-10-03T15:50","v":100},{"t":"2018-10-03T17:30","v":50},{"t":"2018-10-03T19:40","v":10},{"t":"2018-10-03T21:30","v":3},
{"t":"2018-10-04T03:00","v":3},{"t":"2018-10-04T05:45","v":10},{"t":"2018-10-04T07:00","v":100},{"t":"2018-10-04T14:40","v":100},{"t":"2018-10-04T17:30","v":50},{"t":"2018-10-04T21:00","v":10},{"t":"2018-10-04T23:59","v":3},
{"t":"2018-10-05T02:00","v":3},{"t":"2018-10-05T04:35","v":5},{"t":"2018-10-05T07:10","v":100},{"t":"2018-10-05T13:40","v":100},{"t":"2018-10-05T16:10","v":50},{"t":"2018-10-05T18:40","v":20},{"t":"2018-10-05T21:30","v":5},
{"t":"2018-10-06T07:25","v":5},{"t":"2018-10-06T11:20","v":30},{"t":"2018-10-06T13:55","v":50},{"t":"2018-10-06T16:20","v":48},{"t":"2018-10-06T18:55","v":35},{"t":"2018-10-06T21:30","v":10},{"t":"2018-10-06T22:50","v":5},
{"t":"2018-10-07T06:30","v":5},{"t":"2018-10-07T09:10","v":12},{"t":"2018-10-07T12:45","v":32},{"t":"2018-10-07T14:10","v":28},{"t":"2018-10-07T16:35","v":15},{"t":"2018-10-07T19:10","v":5},{"t":"2018-10-07T20:20","v":0}]
},
"vconcat":[
{
"title":{"text":"P+R Letnany"},
"width":1160,"height":300,
"resolve":{"axis":{"x":"independent","y":"independent"}},
"layer":[
{"data":{"name":"L18"},"mark":{"type":"line","clip":true},
"encoding":{
"x":{"field":"t","type":"temporal","scale":{"domain":[{"year":2018,"month":9,"date":1},{"year":2018,"month":10,"date":6,"hours":20}]},"axis":{"orient":"bottom","format":"%b %d","title":"time [Month, Day, Time]","values":[{"year":2018,"month":9,"date":6},{"year":2018,"month":9,"date":13},{"year":2018,"month":9,"date":20},{"year":2018,"month":9,"date":27},{"year":2018,"month":10,"date":4}]}},
"y":{"field":"v","type":"quantitative","scale":{"domain":[0,98.8],"nice":false,"zero":false},"axis":{"orient":"left","title":"Occupancy [%]","values":[0,10,20,30,40,50,60,70,80,90]}},
"color":{"datum":"2018","type":"nominal","scale":{"domain":["2018","2019","2020"],"range":["#0072BD","#D95319","#EDB120"]},"legend":{"title":null}}}},
{"data":{"name":"L19"},"mark":{"type":"line","clip":true},
"encoding":{
"x":{"field":"t","type":"temporal","scale":{"domain":[{"year":2018,"month":9,"date":1},{"year":2018,"month":10,"date":6,"hours":20}]},"axis":null},
"y":{"field":"v","type":"quantitative","scale":{"domain":[0,98.8],"nice":false,"zero":false},"axis":null},
"color":{"datum":"2019","type":"nominal","scale":{"domain":["2018","2019","2020"],"range":["#0072BD","#D95319","#EDB120"]},"legend":{"title":null}}}},
{"data":{"name":"L20"},"mark":{"type":"line","clip":true},
"encoding":{
"x":{"field":"t","type":"temporal","scale":{"domain":[{"year":2018,"month":9,"date":1},{"year":2018,"month":10,"date":6,"hours":20}]},"axis":null},
"y":{"field":"v","type":"quantitative","scale":{"domain":[0,98.8],"nice":false,"zero":false},"axis":null},
"color":{"datum":"2020","type":"nominal","scale":{"domain":["2018","2019","2020"],"range":["#0072BD","#D95319","#EDB120"]},"legend":{"title":null}}}},
{"data":{"values":[{"t":"2018-10-06T20:00","v":0,"lab":"2018"}]},"mark":{"type":"text","align":"right","baseline":"middle","dx":-9,"dy":26,"fontSize":10.5,"color":"#404040","font":"Liberation Sans"},
"encoding":{
"x":{"field":"t","type":"temporal","scale":{"domain":[{"year":2018,"month":9,"date":1},{"year":2018,"month":10,"date":6,"hours":20}]},"axis":{"orient":"top","labels":false,"title":null,"values":[{"year":2018,"month":9,"date":6},{"year":2018,"month":9,"date":13},{"year":2018,"month":9,"date":20},{"year":2018,"month":9,"date":27},{"year":2018,"month":10,"date":4}]}},
"y":{"field":"v","type":"quantitative","scale":{"domain":[0,98.8],"nice":false,"zero":false},"axis":{"orient":"right","labels":false,"title":null,"values":[0,10,20,30,40,50,60,70,80,90]}},
"text":{"field":"lab"}}}
]
},
{
"title":{"text":"P+R Cerny most 2"},
"width":1157,"height":301,
"resolve":{"axis":{"x":"independent","y":"independent"}},
"layer":[
{"data":{"name":"C18"},"mark":{"type":"line","clip":true},
"encoding":{
"x":{"field":"t","type":"temporal","scale":{"domain":[{"year":2018,"month":9,"date":1},{"year":2018,"month":10,"date":7,"hours":20}]},"axis":{"orient":"bottom","format":"%b %d","title":"time [Month, Day, Time]","values":[{"year":2018,"month":9,"date":6},{"year":2018,"month":9,"date":13},{"year":2018,"month":9,"date":20},{"year":2018,"month":9,"date":27},{"year":2018,"month":10,"date":4}]}},
"y":{"field":"v","type":"quantitative","scale":{"domain":[0,98.4],"nice":false,"zero":false},"axis":{"orient":"left","title":"Occupancy [%]","values":[0,10,20,30,40,50,60,70,80,90]}},
"color":{"datum":"2018","type":"nominal","scale":{"domain":["2018","2019","2020"],"range":["#0072BD","#D95319","#EDB120"]},"legend":{"title":null}}}},
{"data":{"name":"C19"},"mark":{"type":"line","clip":true},
"encoding":{
"x":{"field":"t","type":"temporal","scale":{"domain":[{"year":2018,"month":9,"date":1},{"year":2018,"month":10,"date":7,"hours":20}]},"axis":null},
"y":{"field":"v","type":"quantitative","scale":{"domain":[0,98.4],"nice":false,"zero":false},"axis":null},
"color":{"datum":"2019","type":"nominal","scale":{"domain":["2018","2019","2020"],"range":["#0072BD","#D95319","#EDB120"]},"legend":{"title":null}}}},
{"data":{"name":"C20"},"mark":{"type":"line","clip":true},
"encoding":{
"x":{"field":"t","type":"temporal","scale":{"domain":[{"year":2018,"month":9,"date":1},{"year":2018,"month":10,"date":7,"hours":20}]},"axis":null},
"y":{"field":"v","type":"quantitative","scale":{"domain":[0,98.4],"nice":false,"zero":false},"axis":null},
"color":{"datum":"2020","type":"nominal","scale":{"domain":["2018","2019","2020"],"range":["#0072BD","#D95319","#EDB120"]},"legend":{"title":null}}}},
{"data":{"values":[{"t":"2018-10-07T20:00","v":0,"lab":"2018"}]},"mark":{"type":"text","align":"right","baseline":"middle","dx":-9,"dy":27,"fontSize":10.5,"color":"#404040","font":"Liberation Sans"},
"encoding":{
"x":{"field":"t","type":"temporal","scale":{"domain":[{"year":2018,"month":9,"date":1},{"year":2018,"month":10,"date":7,"hours":20}]},"axis":{"orient":"top","labels":false,"title":null,"values":[{"year":2018,"month":9,"date":6},{"year":2018,"month":9,"date":13},{"year":2018,"month":9,"date":20},{"year":2018,"month":9,"date":27},{"year":2018,"month":10,"date":4}]}},
"y":{"field":"v","type":"quantitative","scale":{"domain":[0,98.4],"nice":false,"zero":false},"axis":{"orient":"right","labels":false,"title":null,"values":[0,10,20,30,40,50,60,70,80,90]}},
"text":{"field":"lab"}}}
]
}
]
}
